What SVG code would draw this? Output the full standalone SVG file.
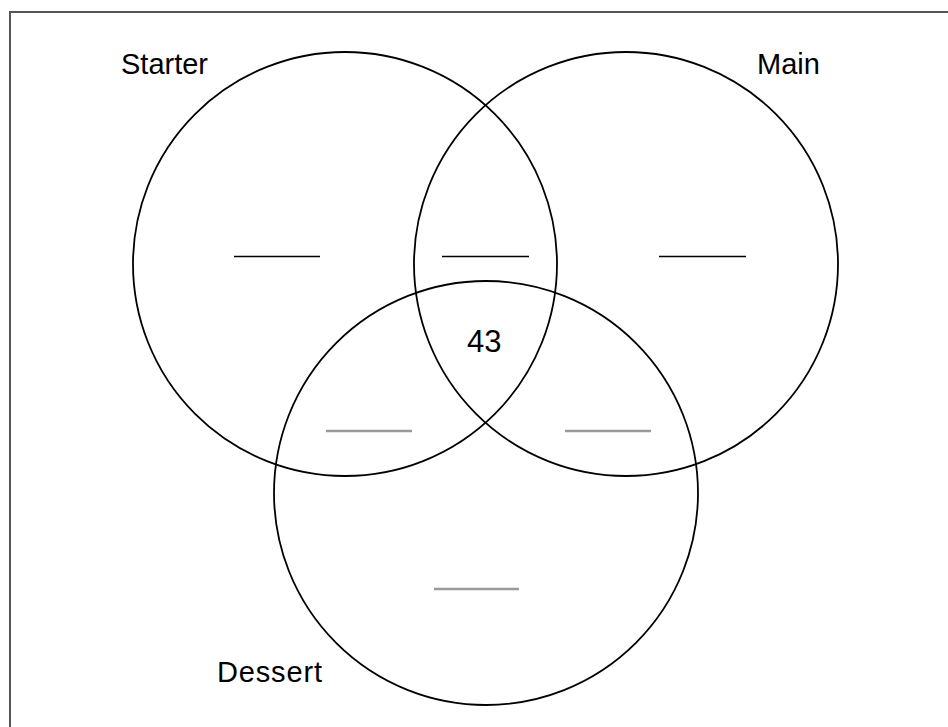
<svg xmlns="http://www.w3.org/2000/svg" width="948" height="727" viewBox="0 0 948 727">
<style>
.c{fill:none;stroke:#000;stroke-width:1.8}
.t{font-family:"Liberation Sans",Arial,sans-serif;font-size:29px;fill:#000}
.d{stroke:#000;stroke-width:1.5}
.g{stroke:#9a9a9a;stroke-width:2.5}
</style>
<rect x="0" y="0" width="948" height="727" fill="#fff"/>
<rect x="10" y="12" width="945" height="725" fill="none" stroke="#555" stroke-width="2"/>
<g id="starter">
<circle class="c" cx="345" cy="264" r="212"/>
<text class="t" x="121" y="74">Starter</text>
</g>
<g id="main">
<circle class="c" cx="626" cy="264" r="212"/>
<text class="t" x="757" y="74">Main</text>
</g>
<g id="dessert">
<circle class="c" cx="486" cy="493" r="212"/>
<text class="t" x="217" y="682" textLength="105">Dessert</text>
</g>
<g id="regions">
<line class="d" x1="234" y1="256.5" x2="320" y2="256.5"/>
<line class="d" x1="442" y1="256.5" x2="529" y2="256.5"/>
<line class="d" x1="659" y1="256.5" x2="746" y2="256.5"/>
<line class="g" x1="326" y1="431" x2="412" y2="431"/>
<line class="g" x1="565" y1="431" x2="651" y2="431"/>
<line class="g" x1="434" y1="589" x2="519" y2="589"/>
<text class="t" x="467" y="352" style="font-size:31px">43</text>
</g>
</svg>
